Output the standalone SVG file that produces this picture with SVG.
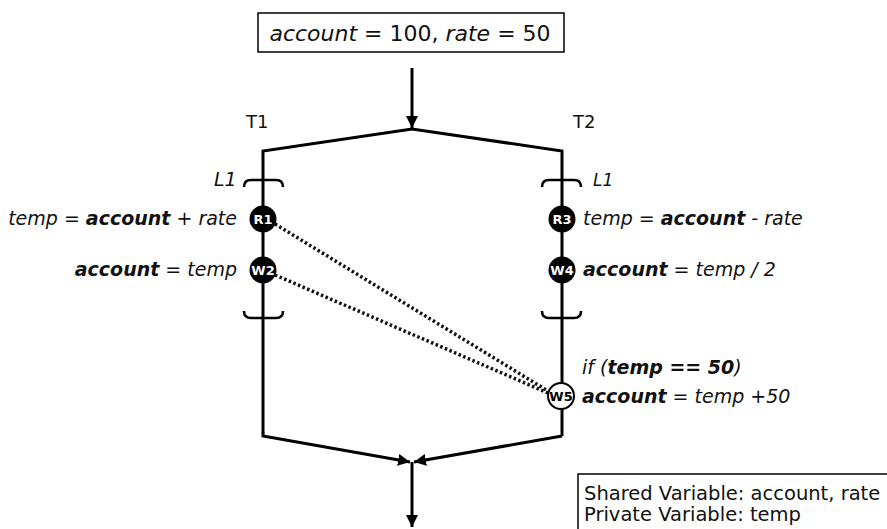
<svg xmlns="http://www.w3.org/2000/svg" width="887" height="529" viewBox="0 0 887 529">
<style>
.t{font-family:"DejaVu Sans","Verdana",sans-serif;fill:#111;}
.lbl{font-size:19px;font-style:italic;}
.b{font-weight:bold;}
.ln{fill:none;stroke:#000;stroke-width:3;}
.br{fill:none;stroke:#000;stroke-width:2.5;}
.dot{fill:none;stroke:#111;stroke-width:3.5;stroke-dasharray:2.5 2.5;}
.nb{fill:#000;}
.nt{font-family:"DejaVu Sans",sans-serif;font-size:13px;font-weight:bold;fill:#fff;text-anchor:middle;}
</style>
<defs>
<marker id="ah" viewBox="0 0 10 10" refX="10" refY="5" markerWidth="4" markerHeight="4" orient="auto" markerUnits="strokeWidth">
<path d="M0,0 L10,5 L0,10 z" fill="#000"/>
</marker>
</defs>
<rect width="887" height="529" fill="#fff"/>

<g id="init">
<rect x="258" y="13" width="306" height="39" fill="#fff" stroke="#000" stroke-width="1.5"/>
<text class="t" x="410" y="41" font-size="22" text-anchor="middle"><tspan font-style="italic">account</tspan> = 100, <tspan font-style="italic">rate</tspan> = 50</text>
</g>

<g id="connectors">
<line class="ln" x1="412" y1="68" x2="412" y2="128" marker-end="url(#ah)"/>
<polyline class="ln" points="263,433 263,151 412,129 562,151 562,383"/>
<line class="ln" x1="562" y1="409" x2="562" y2="436"/>
<polyline class="ln" points="263,432 263,436 410,462" marker-end="url(#ah)"/>
<polyline class="ln" points="562,436 414,462" marker-end="url(#ah)"/>
<line class="ln" x1="412" y1="462" x2="412" y2="527" marker-end="url(#ah)"/>
<line class="dot" x1="275" y1="224" x2="548" y2="391"/>
<line class="dot" x1="275" y1="275" x2="548" y2="393"/>
</g>

<g id="T1">
<text class="t" x="246" y="128" font-size="18">T1</text>
<text class="t lbl" x="214" y="186" font-size="17">L1</text>
<path class="br" d="M244,187 Q244,180 251,180 L276,180 Q283,180 283,187"/>
<path class="br" d="M244,311 Q244,318 251,318 L276,318 Q283,318 283,311"/>
</g>

<g id="R1">
<circle class="nb" cx="263" cy="219" r="13.5"/>
<text class="nt" x="263" y="224">R1</text>
<text class="t lbl" x="237" y="225" text-anchor="end">temp = <tspan class="b">account</tspan> + rate</text>
</g>

<g id="W2">
<circle class="nb" cx="263" cy="270" r="13.5"/>
<text class="nt" x="263" y="275">W2</text>
<text class="t lbl" x="237" y="276" text-anchor="end"><tspan class="b">account</tspan> = temp</text>
</g>

<g id="T2">
<text class="t" x="573" y="128" font-size="18">T2</text>
<text class="t lbl" x="593" y="186" style="font-size:17px">L1</text>
<path class="br" d="M542,187 Q542,180 549,180 L574,180 Q581,180 581,187"/>
<path class="br" d="M542,311 Q542,318 549,318 L574,318 Q581,318 581,311"/>
</g>

<g id="R3">
<circle class="nb" cx="562" cy="219" r="13.5"/>
<text class="nt" x="562" y="224">R3</text>
<text class="t lbl" x="583" y="225">temp = <tspan class="b">account</tspan> - rate</text>
</g>

<g id="W4">
<circle class="nb" cx="562" cy="270" r="13.5"/>
<text class="nt" x="562" y="275">W4</text>
<text class="t lbl" x="583" y="276"><tspan class="b">account</tspan> = temp / 2</text>
</g>

<g id="W5">
<circle cx="561" cy="396" r="13" fill="#fff" stroke="#000" stroke-width="2"/>
<text class="nt" x="561" y="401" style="fill:#000">W5</text>
<text class="t lbl" x="582" y="374">if (<tspan class="b">temp == 50</tspan>)</text>
<text class="t lbl" x="582" y="403"><tspan class="b">account</tspan> = temp +50</text>
</g>

<g id="legend">
<rect x="578" y="474" width="320" height="70" fill="#fff" stroke="#000" stroke-width="1.5"/>
<text class="t" x="584" y="500" font-size="19.5">Shared Variable: account, rate</text>
<text class="t" x="584" y="521" font-size="19.5">Private Variable: temp</text>
</g>
</svg>
